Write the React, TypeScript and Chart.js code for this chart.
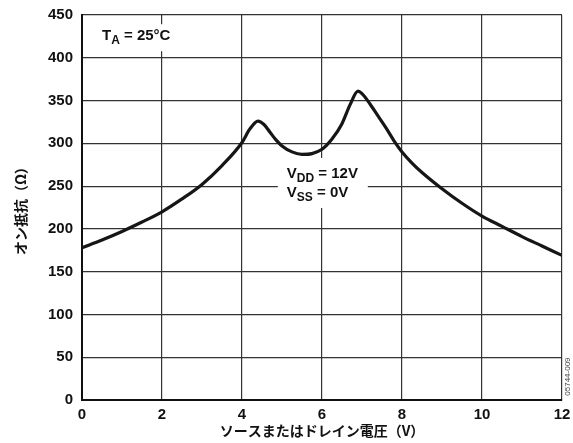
import React, { useEffect, useRef } from "react";
import { Chart, registerables } from "chart.js";

Chart.register(...registerables);

// Source/drain voltage (V)
const voltage = [0, 0.5, 1, 1.5, 2, 2.5, 3, 3.5, 4, 4.2, 4.4, 4.55, 4.7, 4.85, 5.0, 5.25, 5.5, 5.75, 6.0, 6.25, 6.5, 6.7, 6.9, 7.0, 7.2, 7.4, 7.6, 7.8, 8.0, 8.25, 8.5, 9, 9.5, 10, 10.5, 11, 11.5, 12];
// On resistance (Ω)
const resistance = [178, 187, 197, 208, 220, 235, 252, 274, 301, 317, 326, 322, 313, 304, 297, 290, 287, 288, 293, 305, 323, 345, 361, 358, 346, 332, 318, 303, 290, 277, 266, 247, 230, 215, 203, 191, 180, 169];

const xTitle = "ソースまたはドレイン電圧（V）";
const yTitle = "オン抵抗（Ω）";
const figureId = "05744-009";

const FONT = "'Liberation Sans', Arial, Helvetica, sans-serif";

function drawSub(ctx: CanvasRenderingContext2D, x: number, y: number, parts: [string, boolean][]) {
  let cx = x;
  for (const [t, sub] of parts) {
    ctx.font = sub ? `bold 12px ${FONT}` : `bold 15px ${FONT}`;
    ctx.fillText(t, cx, sub ? y + 4 : y);
    cx += ctx.measureText(t).width;
  }
}

const annotationPlugin = {
  id: "annots",
  beforeDatasetsDraw(chart: any) {
    const { ctx, scales } = chart;
    const xs = scales.x, ys = scales.y;
    ctx.save();
    ctx.fillStyle = "#fff";
    // T_A box
    const tx = xs.getPixelForValue(0.5);
    const ty = ys.getPixelForValue(420.5);
    ctx.fillRect(tx - 4, ty - 16, 80, 27);
    // V box
    const vx = xs.getPixelForValue(5.12);
    const vy1 = ys.getPixelForValue(259.5);
    const vy2 = ys.getPixelForValue(237);
    ctx.fillRect(vx - 9, vy1 - 20, 90, 50);

    ctx.fillStyle = "#111";
    ctx.textBaseline = "alphabetic";
    ctx.textAlign = "left";
    drawSub(ctx, tx, ty, [["T", false], ["A", true], [" = 25°C", false]]);
    drawSub(ctx, vx, vy1, [["V", false], ["DD", true], [" = 12V", false]]);
    drawSub(ctx, vx, vy2, [["V", false], ["SS", true], [" = 0V", false]]);

    // figure id, rotated
    ctx.save();
    ctx.translate(chart.width - 5, ys.getPixelForValue(5));
    ctx.rotate(-Math.PI / 2);
    ctx.font = `8px ${FONT}`;
    ctx.fillStyle = "#444";
    ctx.textAlign = "left";
    ctx.textBaseline = "middle";
    ctx.fillText(figureId, 0, 0);
    ctx.restore();
    ctx.restore();
  },
};

export default function App() {
  const ref = useRef<HTMLCanvasElement>(null);
  useEffect(() => {
    document.body.style.margin = "0";
    const chart = new Chart(ref.current!, {
      type: "line",
      data: {
        datasets: [
          {
            data: voltage.map((v, i) => ({ x: v, y: resistance[i] })),
            borderColor: "#161616",
            borderWidth: 3.2,
            pointRadius: 0,
            cubicInterpolationMode: "monotone",
            fill: false,
          },
        ],
      },
      options: {
        animation: false,
        responsive: false,
        maintainAspectRatio: false,
        layout: { padding: { top: 15, right: 11, left: 0, bottom: 0 } },
        plugins: { legend: { display: false }, tooltip: { enabled: false } },
        scales: {
          x: {
            type: "linear",
            min: 0,
            max: 12,
            afterFit: (s: any) => { s.height = 43; s.paddingLeft = 0; s.paddingRight = 0; },
            ticks: { stepSize: 2, color: "#111", padding: 6, font: { family: FONT, size: 15, weight: "bold" } },
            grid: { color: "#333", lineWidth: 1.2, drawTicks: false },
            border: { color: "#111", width: 2 },
            title: { display: true, text: xTitle, color: "#111", padding: { top: 0, bottom: 4 }, font: { family: "'Noto Sans CJK JP', sans-serif", size: 14, weight: "bold" } },
          },
          y: {
            min: 0,
            max: 450,
            afterFit: (s: any) => { s.width = 82; s.paddingTop = 0; s.paddingBottom = 0; },
            ticks: { stepSize: 50, color: "#111", padding: 9, font: { family: FONT, size: 15, weight: "bold" } },
            grid: { color: "#333", lineWidth: 1.2, drawTicks: false },
            border: { color: "#111", width: 2 },
            title: { display: true, text: yTitle, color: "#111", padding: { top: 12, bottom: 0 }, font: { family: "'Noto Sans CJK JP', sans-serif", size: 14, weight: "bold" } },
          },
        },
      },
      plugins: [annotationPlugin],
    } as any);
    return () => chart.destroy();
  }, []);
  return (
    <div style={{ position: "absolute", left: 0, top: 0, width: 573, height: 443 }}>
      <canvas ref={ref} width={573} height={443} style={{ width: 573, height: 443 }} />
    </div>
  );
}
